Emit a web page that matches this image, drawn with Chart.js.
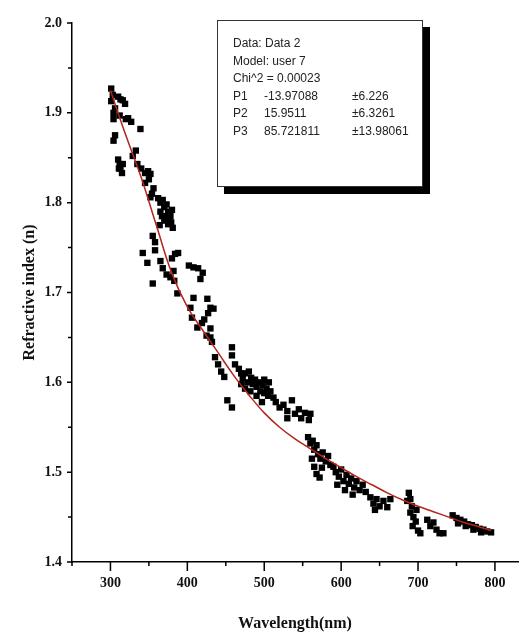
<!DOCTYPE html>
<html>
<head>
<meta charset="utf-8">
<script src="https://cdn.jsdelivr.net/npm/chart.js@4.4.1/dist/chart.umd.min.js"></script>
<style>
  body { margin: 0; background: #fff; }
  #wrap { position: relative; width: 524px; height: 637px; }
  #fitBox {
    position: absolute; left: 217px; top: 20px; width: 206px; height: 167px;
    border: 1px solid #333; background: #fff; box-shadow: 7px 7px 0 #000;
    font-family: "Liberation Sans Narrow", "Liberation Sans", Arial, sans-serif;
    font-size: 12px; color: #222; box-sizing: border-box;
  }
  #fitBox div { position: absolute; white-space: nowrap; }
</style>
</head>
<body>
<div id="wrap">
  <canvas id="chart" width="524" height="637"></canvas>
  <div id="fitBox"></div>
</div>
<script>
// measured points (wavelength in nm, refractive index)
const wavelength = [
  301,303,310,313,301,316,319,304,306,304,312,320,323,327,339,304,306,310,312,313,315,311,316,329,333,335,340,345,349,352,345,350,356,354,352,
  362,365,368,370,373,375,378,365,372,376,375,370,367,379,380,364,381,
  358,355,358,342,348,355,368,365,380,384,388,382,378,373,383,387,402,408,414,420,417,408,426,430,427,404,406,419,413,434,422,430,425,
  430,432,436,440,444,448,458,458,452,458,
  467,470,472,475,478,480,483,485,488,490,493,495,498,500,503,505,508,512,470,475,482,490,497,462,500,506,
  515,520,525,530,536,540,545,548,553,558,560,530,
  557,560,563,565,568,570,573,576,580,583,586,590,562,565,568,572,575,
  593,597,600,603,607,610,613,617,620,624,628,632,595,605,615,
  638,642,646,650,655,660,664,644,
  688,690,692,690,694,697,693,700,698,703,686,
  712,716,720,724,728,733,
  745,750,755,760,765,770,775,780,785,790,795,752,762,772,782
];
const refIndex = [
  1.927,1.920,1.918,1.915,1.913,1.914,1.910,1.900,1.905,1.893,1.897,1.893,1.894,1.890,1.882,1.869,1.875,1.848,1.843,1.838,1.833,1.838,1.843,1.852,1.858,1.843,1.838,1.833,1.835,1.832,1.822,1.826,1.816,1.810,1.806,
  1.805,1.800,1.803,1.795,1.798,1.790,1.785,1.790,1.785,1.781,1.776,1.780,1.785,1.778,1.792,1.775,1.772,
  1.756,1.763,1.747,1.744,1.733,1.710,1.727,1.735,1.738,1.743,1.744,1.724,1.717,1.720,1.713,1.699,1.730,1.728,1.727,1.722,1.715,1.694,1.693,1.683,1.677,1.683,1.672,1.666,1.661,1.682,1.670,1.660,1.652,
  1.650,1.645,1.628,1.620,1.612,1.606,1.639,1.630,1.580,1.572,
  1.615,1.610,1.605,1.610,1.600,1.612,1.605,1.598,1.603,1.595,1.600,1.590,1.597,1.588,1.593,1.585,1.590,1.583,1.598,1.593,1.590,1.585,1.578,1.620,1.603,1.600,
  1.578,1.572,1.575,1.568,1.580,1.565,1.570,1.560,1.566,1.558,1.565,1.560,
  1.539,1.532,1.535,1.525,1.530,1.520,1.515,1.522,1.512,1.518,1.508,1.506,1.515,1.506,1.498,1.494,1.505,
  1.500,1.495,1.503,1.490,1.497,1.487,1.493,1.483,1.490,1.480,1.486,1.478,1.486,1.480,1.475,
  1.472,1.465,1.470,1.462,1.468,1.461,1.470,1.458,
  1.477,1.470,1.462,1.455,1.450,1.445,1.440,1.435,1.458,1.432,1.468,
  1.447,1.440,1.444,1.436,1.432,1.432,
  1.452,1.449,1.447,1.445,1.442,1.441,1.439,1.437,1.436,1.434,1.433,1.443,1.440,1.436,1.433
];

// fitted curve
const fitWavelength = [300,320,340,360,380,400,420,440,460,480,500,520,540,560,580,600,620,640,660,680,700,720,740,760,780,795];
const fitIndex = [1.925,1.875,1.828,1.774,1.721,1.684,1.658,1.633,1.608,1.586,1.566,1.550,1.537,1.526,1.515,1.505,1.495,1.486,1.477,1.469,1.462,1.456,1.450,1.444,1.439,1.435];

// axis ticks
const xMajor = [300,400,500,600,700,800];
const xMinor = [250,350,450,550,650,750];
const yMajor = [1.4,1.5,1.6,1.7,1.8,1.9,2.0];
const yMinor = [1.45,1.55,1.65,1.75,1.85,1.95];

// fit report text
const fitHeader = ['Data: Data 2', 'Model: user 7', 'Chi^2 = 0.00023'];
const paramNames = ['P1', 'P2', 'P3'];
const paramValues = ['-13.97088', '15.9511', '85.721811'];
const paramErrors = ['\u00b16.226', '\u00b16.3261', '\u00b113.98061'];

const box = document.getElementById('fitBox');
function addText(txt, left, top){
    const d = document.createElement('div');
    d.textContent = txt;
    d.style.left = left + 'px';
    d.style.top = top + 'px';
    box.appendChild(d);
}
fitHeader.forEach((t, i) => addText(t, 15, 15 + i * 17.6));
paramNames.forEach((t, i) => {
    addText(t, 15, 15 + (i + 3) * 17.6);
    addText(paramValues[i], 46, 15 + (i + 3) * 17.6);
    addText(paramErrors[i], 134, 15 + (i + 3) * 17.6);
});

const points = wavelength.map((w, i) => ({x: w, y: refIndex[i]}));
const fitPoints = fitWavelength.map((w, i) => ({x: w, y: fitIndex[i]}));

// tick marks drawn outside the axes, long for major, short for minor
const tickMarks = {
    id: 'tickMarks',
    afterDraw(chart){
        const c = chart.ctx;
        const xs = chart.scales.x, ys = chart.scales.y;
        const area = chart.chartArea;
        c.save();
        c.strokeStyle = '#000';
        c.lineWidth = 1.5;
        c.beginPath();
        xMajor.forEach(v => { const p = xs.getPixelForValue(v); c.moveTo(p, area.bottom); c.lineTo(p, area.bottom + 9); });
        xMinor.forEach(v => { const p = xs.getPixelForValue(v); c.moveTo(p, area.bottom); c.lineTo(p, area.bottom + 4); });
        yMajor.forEach(v => { const p = ys.getPixelForValue(v); c.moveTo(area.left, p); c.lineTo(area.left - 5, p); });
        yMinor.forEach(v => { const p = ys.getPixelForValue(v); c.moveTo(area.left, p); c.lineTo(area.left - 4, p); });
        c.stroke();
        c.restore();
    }
};

const serif = "'Liberation Serif', 'Times New Roman', serif";

new Chart(document.getElementById('chart'), {
    type: 'scatter',
    data: {
        datasets: [
            {
                type: 'line',
                label: 'fit',
                data: fitPoints,
                borderColor: '#b3261e',
                borderWidth: 1.5,
                pointRadius: 0,
                tension: 0.4,
                fill: false,
                order: 0
            },
            {
                label: 'Data 2',
                data: points,
                pointStyle: 'rect',
                pointRadius: 4.5,
                backgroundColor: '#000',
                borderColor: '#000',
                borderWidth: 0,
                order: 1
            }
        ]
    },
    options: {
        responsive: false,
        animation: false,
        layout: { padding: { top: 23, right: 6, left: 16, bottom: 0 } },
        plugins: { legend: { display: false }, tooltip: { enabled: false } },
        scales: {
            x: {
                type: 'linear',
                min: 250,
                max: 830,
                afterBuildTicks: s => { s.ticks = xMajor.map(v => ({value: v})); },
                afterFit: s => { s.height = 75; },
                grid: { display: false, drawTicks: false },
                border: { display: true, color: '#000', width: 1.5 },
                ticks: {
                    padding: 13,
                    color: '#111',
                    font: { family: serif, size: 14, weight: 'bold' },
                    callback: v => String(v)
                },
                title: {
                    display: true,
                    text: 'Wavelength(nm)',
                    color: '#111',
                    font: { family: serif, size: 16, weight: 'bold' },
                    padding: { top: 12 }
                }
            },
            y: {
                type: 'linear',
                min: 1.4,
                max: 2.0,
                afterBuildTicks: s => { s.ticks = yMajor.map(v => ({value: v})); },
                afterFit: s => { s.width = 56; },
                grid: { display: false, drawTicks: false },
                border: { display: true, color: '#000', width: 1.5 },
                ticks: {
                    padding: 10,
                    color: '#111',
                    font: { family: serif, size: 14, weight: 'bold' },
                    callback: v => Number(v).toFixed(1)
                },
                title: {
                    display: true,
                    text: 'Refractive index (n)',
                    color: '#111',
                    font: { family: serif, size: 16, weight: 'bold' },
                    padding: { bottom: 4 }
                }
            }
        }
    },
    plugins: [tickMarks]
});
</script>
</body>
</html>
